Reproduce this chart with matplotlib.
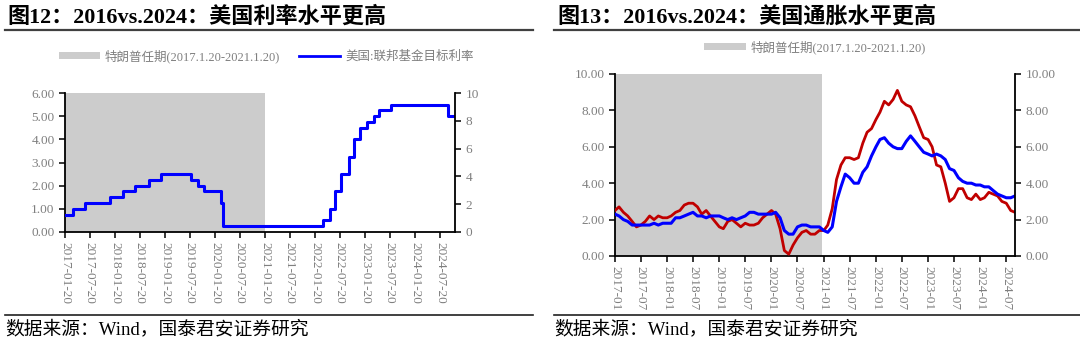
import matplotlib
matplotlib.use("Agg")
import matplotlib.pyplot as plt
import matplotlib.dates as mdates
from matplotlib.lines import Line2D
from matplotlib.patches import Patch
import pandas as pd
import numpy as np

# ---------------- data ----------------
TERM_START = "2017-01-20"
TERM_END = "2021-01-20"
TERM_LABEL = "特朗普任期(2017.1.20-2021.1.20)"

# Fed funds target rate (upper bound) change dates
fed_dates = ["2017-01-20", "2017-03-16", "2017-06-15", "2017-12-14", "2018-03-22",
             "2018-06-14", "2018-09-27", "2018-12-20", "2019-08-01", "2019-09-19",
             "2019-10-31", "2020-03-04", "2020-03-16", "2022-03-17", "2022-05-05",
             "2022-06-16", "2022-07-28", "2022-09-22", "2022-11-03", "2022-12-15",
             "2023-02-02", "2023-03-23", "2023-05-04", "2023-07-27", "2024-09-19",
             "2024-11-06"]
fed_rate = [0.75, 1.00, 1.25, 1.50, 1.75, 2.00, 2.25, 2.50, 2.25, 2.00,
            1.75, 1.25, 0.25, 0.50, 1.00, 1.75, 2.50, 3.25, 4.00, 4.50,
            4.75, 5.00, 5.25, 5.50, 5.00, 5.00]
FED_LABEL = "美国:联邦基金目标利率"
fed_ticks = ["2017-01-20", "2017-07-20", "2018-01-20", "2018-07-20", "2019-01-20",
             "2019-07-20", "2020-01-20", "2020-07-20", "2021-01-20", "2021-07-20",
             "2022-01-20", "2022-07-20", "2023-01-20", "2023-07-20", "2024-01-20",
             "2024-07-20"]

# US CPI YoY and core CPI YoY, monthly 2017-01 .. 2024-09
cpi = [2.5, 2.7, 2.4, 2.2, 1.9, 1.6, 1.7, 1.9, 2.2, 2.0, 2.2, 2.1,
       2.1, 2.2, 2.4, 2.5, 2.8, 2.9, 2.9, 2.7, 2.3, 2.5, 2.2, 1.9,
       1.6, 1.5, 1.9, 2.0, 1.8, 1.6, 1.8, 1.7, 1.7, 1.8, 2.1, 2.3,
       2.5, 2.3, 1.5, 0.3, 0.1, 0.6, 1.0, 1.3, 1.4, 1.2, 1.2, 1.4,
       1.4, 1.7, 2.6, 4.2, 5.0, 5.4, 5.4, 5.3, 5.4, 6.2, 6.8, 7.0,
       7.5, 7.9, 8.5, 8.3, 8.6, 9.1, 8.5, 8.3, 8.2, 7.7, 7.1, 6.5,
       6.4, 6.0, 5.0, 4.9, 4.0, 3.0, 3.2, 3.7, 3.7, 3.2, 3.1, 3.4,
       3.1, 3.2, 3.5, 3.4, 3.3, 3.0, 2.9, 2.5, 2.4]
core_cpi = [2.3, 2.2, 2.0, 1.9, 1.7, 1.7, 1.7, 1.7, 1.7, 1.8, 1.7, 1.8,
            1.8, 1.8, 2.1, 2.1, 2.2, 2.3, 2.4, 2.2, 2.2, 2.1, 2.2, 2.2,
            2.2, 2.1, 2.0, 2.1, 2.0, 2.1, 2.2, 2.4, 2.4, 2.3, 2.3, 2.3,
            2.3, 2.4, 2.1, 1.4, 1.2, 1.2, 1.6, 1.7, 1.7, 1.6, 1.6, 1.6,
            1.4, 1.3, 1.6, 3.0, 3.8, 4.5, 4.3, 4.0, 4.0, 4.6, 4.9, 5.5,
            6.0, 6.4, 6.5, 6.2, 6.0, 5.9, 5.9, 6.3, 6.6, 6.3, 6.0, 5.7,
            5.6, 5.5, 5.6, 5.5, 5.3, 4.8, 4.7, 4.3, 4.1, 4.0, 4.0, 3.9,
            3.9, 3.8, 3.8, 3.6, 3.4, 3.3, 3.2, 3.2, 3.3]
CPI_START = "2017-01"

TITLE_L = "图12：2016vs.2024：美国利率水平更高"
TITLE_R = "图13：2016vs.2024：美国通胀水平更高"
SOURCE = "数据来源：Wind，国泰君安证券研究"

# ---------------- style ----------------
FAM = ["Liberation Serif", "Noto Sans CJK SC", "DejaVu Sans"]
plt.rcParams["font.family"] = FAM
GRAY_TXT = "#7f7f7f"
SHADE = "#cccccc"
BLUE = "#0000ff"
RED = "#c00000"

fig = plt.figure(figsize=(10.8, 3.38), dpi=100)
W, H = 1080, 338


def fx(px):
    return px / W


def fy(py):
    return 1 - py / H


def style_axis(ax, side_ax):
    for a in (ax, side_ax):
        a.spines["top"].set_visible(False)
        for s in ("left", "right", "bottom"):
            a.spines[s].set_linewidth(1.3)
            a.spines[s].set_color("black")
        a.tick_params(axis="both", direction="out", length=4, width=1.1,
                      colors="black", labelcolor=GRAY_TXT, labelsize=9.5)


# ---------------- left chart ----------------
axL = fig.add_axes([fx(65), fy(232), fx(455) - fx(65), fy(93) - fy(232)])
fd = pd.to_datetime(fed_dates)
t0, t1 = pd.Timestamp(TERM_START), pd.Timestamp(TERM_END)
axL.axvspan(t0, t1, color=SHADE, lw=0, zorder=1)
axL.step(fd, fed_rate, where="post", color=BLUE, lw=2.2, zorder=3)
axL.set_xlim(fd[0], fd[-1])
axL.set_ylim(0, 6)
axL.set_yticks(np.arange(0, 6.01, 1))
axL.yaxis.set_major_formatter(matplotlib.ticker.FormatStrFormatter("%.2f"))
axL.set_xticks(pd.to_datetime(fed_ticks))
axL.xaxis.set_major_formatter(mdates.DateFormatter("%Y-%m-%d"))
for lab in axL.get_xticklabels():
    lab.set_rotation(-90)
axL.tick_params(axis="x", pad=3)
axL2 = axL.twinx()
axL2.set_ylim(0, 10)
axL2.set_yticks(np.arange(0, 10.1, 2))
style_axis(axL, axL2)
axL.spines["right"].set_visible(False)
axL2.spines["left"].set_visible(False)
axL2.spines["bottom"].set_visible(False)

handlesL = [Patch(facecolor=SHADE, edgecolor="none"), Line2D([], [], color=BLUE, lw=2.0)]
legL = fig.legend(handlesL, [TERM_LABEL, FED_LABEL], loc="center",
                  bbox_to_anchor=(fx(266), fy(56)), ncol=2, frameon=False,
                  fontsize=9, handlelength=3.3, handleheight=0.5, handletextpad=0.4,
                  columnspacing=1.5, labelcolor=GRAY_TXT)

# ---------------- right chart ----------------
axR = fig.add_axes([fx(615), fy(256), fx(1015) - fx(615), fy(74) - fy(256)])
md = pd.period_range(CPI_START, periods=len(cpi), freq="M").to_timestamp(how="end").normalize()
axR.axvspan(md[0], t1, color=SHADE, lw=0, zorder=1)
axR.plot(md, cpi, color=RED, lw=2.0, zorder=3)
axR.plot(md, core_cpi, color=BLUE, lw=2.2, zorder=4)
axR.set_xlim(md[0], md[-1])
axR.set_ylim(0, 10)
axR.set_yticks(np.arange(0, 10.1, 2))
axR.yaxis.set_major_formatter(matplotlib.ticker.FormatStrFormatter("%.2f"))
axR.set_xticks(md[::6])
axR.xaxis.set_major_formatter(mdates.DateFormatter("%Y-%m"))
for lab in axR.get_xticklabels():
    lab.set_rotation(-90)
axR.tick_params(axis="x", pad=3)
axR2 = axR.twinx()
axR2.set_ylim(0, 10)
axR2.set_yticks(np.arange(0, 10.1, 2))
axR2.yaxis.set_major_formatter(matplotlib.ticker.FormatStrFormatter("%.2f"))
style_axis(axR, axR2)
axR.spines["right"].set_visible(False)
axR2.spines["left"].set_visible(False)
axR2.spines["bottom"].set_visible(False)

legR = fig.legend([Patch(facecolor=SHADE, edgecolor="none")], [TERM_LABEL], loc="center",
                  bbox_to_anchor=(fx(815), fy(47)), ncol=1, frameon=False,
                  fontsize=9, handlelength=3.3, handleheight=0.5, handletextpad=0.4,
                  labelcolor=GRAY_TXT)

# ---------------- titles, rules, sources ----------------
fig.text(fx(7), fy(17), TITLE_L, fontsize=15.9, fontweight="bold", va="center", ha="left")
fig.text(fx(557), fy(17), TITLE_R, fontsize=15.9, fontweight="bold", va="center", ha="left")
fig.add_artist(Line2D([fx(5), fx(533)], [fy(29.5), fy(29.5)], color="#404040", lw=1.6))
fig.add_artist(Line2D([fx(554), fx(1080)], [fy(29.5), fy(29.5)], color="#404040", lw=1.6))
fig.add_artist(Line2D([fx(5), fx(533)], [fy(315), fy(315)], color="#202020", lw=1.2))
fig.add_artist(Line2D([fx(554), fx(1080)], [fy(315), fy(315)], color="#202020", lw=1.2))
fig.text(fx(5), fy(329), SOURCE, fontsize=13.5, va="center", ha="left")
fig.text(fx(554), fy(329), SOURCE, fontsize=13.5, va="center", ha="left")

fig.savefig("out.png", dpi=100, facecolor="white")
